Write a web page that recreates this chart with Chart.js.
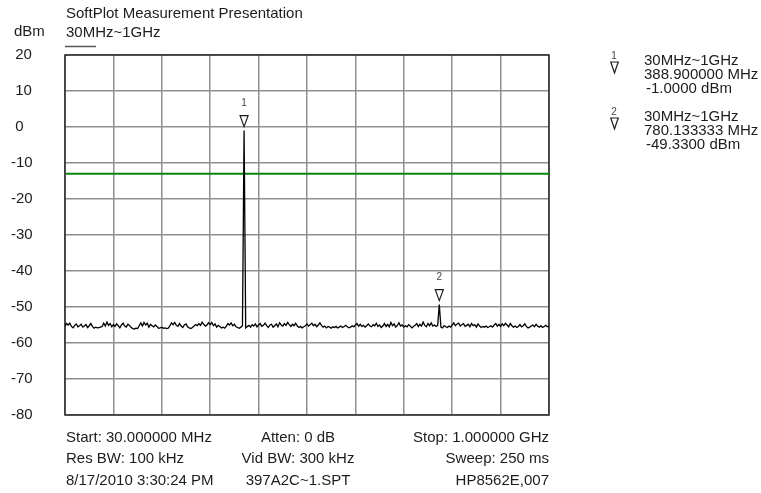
<!DOCTYPE html>
<html>
<head>
<meta charset="utf-8">
<script src="https://cdn.jsdelivr.net/npm/chart.js@4/dist/chart.umd.min.js"></script>
<style>
  html, body { margin: 0; padding: 0; background: #fff; }
  canvas { display: block; }
</style>
</head>
<body>
<canvas id="spectrum" width="761" height="493"></canvas>
<script>
// sweep: 30 MHz .. 1 GHz, trace levels in dBm
const startMHz = 30;
const stopMHz = 1000;
const levelDbm = [
  -55.3, -54.6, -55.0, -54.5, -55.4, -55.8, -55.1, -54.7, -55.5, -55.2,
  -54.8, -55.6, -55.3, -54.9, -55.7, -55.2, -54.6, -55.4, -55.9, -55.6,
  -55.8, -55.7, -55.6, -55.4, -54.5, -55.3, -54.2, -55.1, -54.6, -55.5,
  -54.9, -55.4, -54.7, -55.2, -55.8, -55.0, -54.5, -55.3, -55.6, -54.8,
  -55.1, -55.7, -56.0, -56.1, -55.9, -56.0, -55.2, -54.4, -55.3, -54.3,
  -55.0, -54.5, -55.6, -54.8, -55.2, -55.5, -55.0, -55.4, -55.9, -55.8,
  -55.6, -55.9, -55.8, -56.0, -55.9, -55.2, -54.4, -54.9, -54.3, -55.1,
  -55.4, -54.6, -55.3, -55.7, -55.0, -54.7, -55.5, -55.8, -56.0, -55.7,
  -55.3, -54.9, -55.2, -54.6, -55.1, -54.2, -54.8, -55.3, -55.0, -54.4,
  -54.9, -54.3, -55.2, -54.7, -55.6, -55.1, -55.4, -55.8, -55.6, -55.9,
  -55.3, -54.6, -55.0, -54.4, -55.2, -54.8, -55.5, -55.7, -55.9, -55.6,
  -55.2, -1.0, -55.8, -55.4, -55.1, -55.6, -54.9, -55.3, -54.7, -55.5,
  -55.0, -54.6, -55.4, -55.1, -54.5, -55.2, -55.7, -55.0, -54.8, -55.6,
  -55.2, -54.7, -55.5, -54.4, -55.0, -55.3, -54.6, -55.1, -54.3, -54.9,
  -55.4, -54.8, -55.2, -54.5, -55.3, -55.7, -55.4, -55.8, -55.5, -55.2,
  -54.7, -55.3, -54.9, -54.5, -55.2, -54.8, -55.5, -55.0, -54.4, -55.1,
  -55.6, -55.3, -55.8, -55.4, -55.6, -55.9, -55.5, -55.7, -55.4, -55.8,
  -55.6, -55.3, -55.7, -55.4, -55.1, -55.5, -55.8, -55.6, -55.2, -55.5,
  -55.0, -54.6, -55.3, -54.8, -55.4, -55.1, -55.6, -55.2, -54.7, -55.3,
  -55.5, -54.9, -55.2, -54.5, -55.4, -55.0, -55.7, -55.3, -54.6, -55.4,
  -54.8, -55.5, -54.3, -55.2, -54.7, -55.6, -55.1, -54.4, -55.3, -55.0,
  -55.6, -55.2, -55.5, -54.9, -55.3, -55.8, -55.4, -55.1, -54.6, -55.4,
  -54.8, -55.3, -54.2, -55.1, -55.5, -54.6, -55.2, -54.4, -55.3, -55.0,
  -55.4, -55.1, -49.33, -55.6, -55.8, -55.2, -55.5, -55.7, -55.3, -55.6,
  -55.0, -54.4, -55.2, -54.7, -54.5, -55.3, -54.9, -54.6, -55.4, -55.1,
  -54.8, -55.5, -54.6, -55.2, -54.9, -55.6, -54.7, -55.3, -55.7, -55.4,
  -55.6, -55.3, -55.7, -55.5, -55.2, -55.6, -55.0, -54.6, -55.3, -54.8,
  -55.4, -54.7, -55.2, -54.5, -55.0, -55.5, -54.6, -55.2, -55.6, -55.3,
  -55.7, -55.4, -54.9, -55.5, -55.2, -54.7, -55.4, -55.8, -55.6, -55.3,
  -55.0, -55.5, -54.8, -55.3, -55.6, -55.2, -55.7, -55.4, -55.1, -55.5,
  -55.3
];

const gridFreqs = [30, 127, 224, 321, 418, 515, 612, 709, 806, 903, 1000];
const limitDbm = -13;

const markerFreqs = [388.9, 780.133333];
const markerLevels = [-1.0, -49.33];
const markerLines = [
  ['30MHz~1GHz', '388.900000 MHz', '-1.0000 dBm'],
  ['30MHz~1GHz', '780.133333 MHz', '-49.3300 dBm']
];

const footerRows = [
  ['Start: 30.000000 MHz', 'Atten: 0 dB', 'Stop: 1.000000 GHz'],
  ['Res BW: 100 kHz', 'Vid BW: 300 kHz', 'Sweep: 250 ms'],
  ['8/17/2010 3:30:24 PM', '397A2C~1.SPT', 'HP8562E,007']
];

const FONT = '"Liberation Sans", Arial, sans-serif';
const INK = '#1c1c1c';

const stepMHz = (stopMHz - startMHz) / (levelDbm.length - 1);
const tracePoints = levelDbm.map((v, i) => ({ x: startMHz + i * stepMHz, y: v }));

function triangle(ctx, x, tipY, w, h) {
  ctx.beginPath();
  ctx.moveTo(x - w / 2, tipY - h);
  ctx.lineTo(x + w / 2, tipY - h);
  ctx.lineTo(x, tipY);
  ctx.closePath();
  ctx.stroke();
}

// frame box, markers and all the text round the plot
const decor = {
  id: 'decor',
  beforeDatasetsDraw(chart) {
    const { ctx, chartArea: a } = chart;
    ctx.save();
    ctx.strokeStyle = '#2a2a2a';
    ctx.lineWidth = 1.5;
    ctx.strokeRect(a.left, a.top, a.right - a.left, a.bottom - a.top);
    ctx.restore();
  },
  afterDraw(chart) {
    const { ctx, chartArea: a } = chart;
    const xs = chart.scales.x, ys = chart.scales.y;
    ctx.save();
    ctx.fillStyle = INK;
    ctx.textBaseline = 'middle';

    ctx.font = '15px ' + FONT;
    ctx.textAlign = 'left';
    ctx.fillText('SoftPlot Measurement Presentation', 66, 14);
    ctx.fillText('dBm', 14, 32);
    ctx.fillText('30MHz~1GHz', 66, 33);
    ctx.strokeStyle = '#555';
    ctx.lineWidth = 1.5;
    ctx.beginPath();
    ctx.moveTo(65, 46.5);
    ctx.lineTo(96, 46.5);
    ctx.stroke();

    // footer under the plot
    footerRows.forEach((row, r) => {
      const y = 437.5 + r * 21.5;
      ctx.textAlign = 'left';
      ctx.fillText(row[0], a.left + 1, y);
      ctx.textAlign = 'center';
      ctx.fillText(row[1], 298, y);
      ctx.textAlign = 'right';
      ctx.fillText(row[2], a.right, y);
    });

    // markers on the trace
    ctx.strokeStyle = INK;
    ctx.lineWidth = 1.2;
    markerFreqs.forEach((f, i) => {
      const px = xs.getPixelForValue(f);
      const tip = ys.getPixelForValue(markerLevels[i]) - 4;
      triangle(ctx, px, tip, 8, 11);
      ctx.fillStyle = '#444';
      ctx.font = '10px ' + FONT;
      ctx.textAlign = 'center';
      ctx.fillText(String(i + 1), px, tip - 23);
    });

    // marker table on the right
    markerLines.forEach((lines, i) => {
      const y0 = 61 + i * 56;
      ctx.fillStyle = '#444';
      ctx.font = '10px ' + FONT;
      ctx.textAlign = 'center';
      ctx.fillText(String(i + 1), 614, y0 - 5);
      triangle(ctx, 614.5, y0 + 12, 7.5, 11);
      ctx.fillStyle = INK;
      ctx.font = '15px ' + FONT;
      ctx.textAlign = 'left';
      ctx.fillText(lines[0], 644, y0);
      ctx.fillText(lines[1], 644, y0 + 14);
      ctx.fillText(lines[2], 646, y0 + 28);
    });
    ctx.restore();
  }
};

new Chart(document.getElementById('spectrum'), {
  type: 'line',
  data: {
    datasets: [
      {
        data: tracePoints,
        borderColor: '#000',
        borderWidth: 1.3,
        pointRadius: 0,
        tension: 0
      },
      {
        data: [{ x: startMHz, y: limitDbm }, { x: stopMHz, y: limitDbm }],
        borderColor: '#0a840a',
        borderWidth: 2,
        pointRadius: 0
      }
    ]
  },
  options: {
    responsive: false,
    animation: false,
    devicePixelRatio: 1,
    layout: { padding: { left: 11, right: 212, top: 55, bottom: 78 } },
    plugins: { legend: { display: false }, tooltip: { enabled: false } },
    scales: {
      x: {
        type: 'linear',
        min: startMHz,
        max: stopMHz,
        afterBuildTicks: s => { s.ticks = gridFreqs.map(v => ({ value: v })); },
        afterFit: s => { s.height = 0; },
        ticks: { display: false },
        grid: { color: '#8f8f8f', lineWidth: 1.5, drawTicks: false },
        border: { display: false }
      },
      y: {
        min: -80,
        max: 20,
        afterFit: s => { s.width = 54; },
        ticks: {
          stepSize: 10,
          crossAlign: 'far',
          color: INK,
          font: { family: FONT, size: 15 },
          callback: v => (v >= 0 ? ' ' + v : String(v))
        },
        grid: { color: '#8f8f8f', lineWidth: 1.5, drawTicks: false },
        border: { display: false }
      }
    }
  },
  plugins: [decor]
});
</script>
</body>
</html>
